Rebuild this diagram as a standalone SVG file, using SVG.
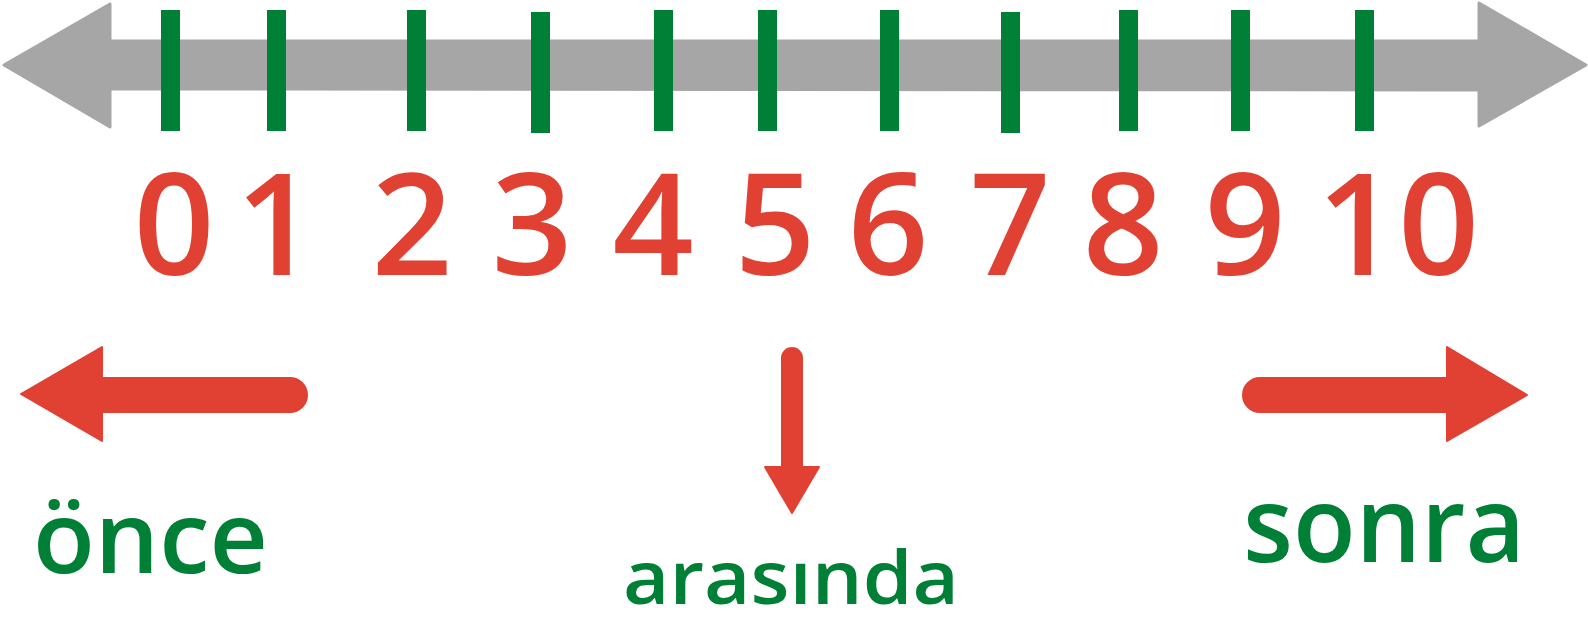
<svg xmlns="http://www.w3.org/2000/svg" width="1588" height="626" viewBox="0 0 1588 626">
<style>
.axis{fill:#A6A6A6;stroke:#A6A6A6;stroke-width:3;stroke-linejoin:round}
.tick{fill:#007F36}
.num{font-family:"Open Sans","Liberation Sans",sans-serif;font-size:142px;font-weight:600;fill:#E04133;text-anchor:middle}
.red{fill:#E04133;stroke:#E04133;stroke-width:2;stroke-linejoin:round}
.word{font-family:"Open Sans","Liberation Sans",sans-serif;font-weight:600;fill:#007F36}
</style>
<rect width="1588" height="626" fill="#fff"/>
<g id="number-line">
<polygon class="axis" points="4,65 110,4 110,41 1479,41 1479,3 1586,65 1479,126 1479,90 110,89 110,127"/>
</g>
<g id="ticks">
<rect class="tick" x="161" y="10" width="19" height="121"/>
<rect class="tick" x="267" y="10" width="19" height="121"/>
<rect class="tick" x="407" y="10" width="19" height="121"/>
<rect class="tick" x="531" y="12" width="19" height="121"/>
<rect class="tick" x="654" y="10" width="19" height="121"/>
<rect class="tick" x="758" y="10" width="19" height="121"/>
<rect class="tick" x="880" y="10" width="19" height="121"/>
<rect class="tick" x="1001" y="12" width="19" height="121"/>
<rect class="tick" x="1119" y="10" width="19" height="121"/>
<rect class="tick" x="1231" y="10" width="19" height="121"/>
<rect class="tick" x="1355" y="10" width="19" height="121"/>
</g>
<g id="numbers">
<text class="num" x="174" y="275">0</text>
<text class="num" x="276" y="275">1</text>
<text class="num" x="412" y="275">2</text>
<text class="num" x="532" y="275">3</text>
<text class="num" x="653" y="275">4</text>
<text class="num" x="775" y="275">5</text>
<text class="num" x="888" y="275">6</text>
<text class="num" x="1010" y="275">7</text>
<text class="num" x="1123" y="275">8</text>
<text class="num" x="1245" y="275">9</text>
<text class="num" x="1398" y="275">10</text>
</g>
<g id="connectors">
<path id="arrow-before" class="red" d="M21,394 L102,347 L102,378 L290,378 A17,17 0 0 1 290,412 L102,412 L102,441 Z"/>
<path id="arrow-between" class="red" d="M782,358 A10,10 0 0 1 802,358 L802,467 L819,467 L792,513 L765,467 L782,467 Z"/>
<path id="arrow-after" class="red" d="M1527,395 L1447,347 L1447,378 L1260,378 A17,17 0 0 0 1260,412 L1447,412 L1447,441 Z"/>
</g>
<g id="label-once">
<text class="word" x="33" y="573" font-size="99" textLength="235" lengthAdjust="spacingAndGlyphs">önce</text>
</g>
<g id="label-arasinda">
<text class="word" x="623" y="604" font-size="74" textLength="336" lengthAdjust="spacingAndGlyphs">arasında</text>
</g>
<g id="label-sonra">
<text class="word" x="1243" y="562" font-size="105" textLength="282" lengthAdjust="spacingAndGlyphs">sonra</text>
</g>
</svg>
